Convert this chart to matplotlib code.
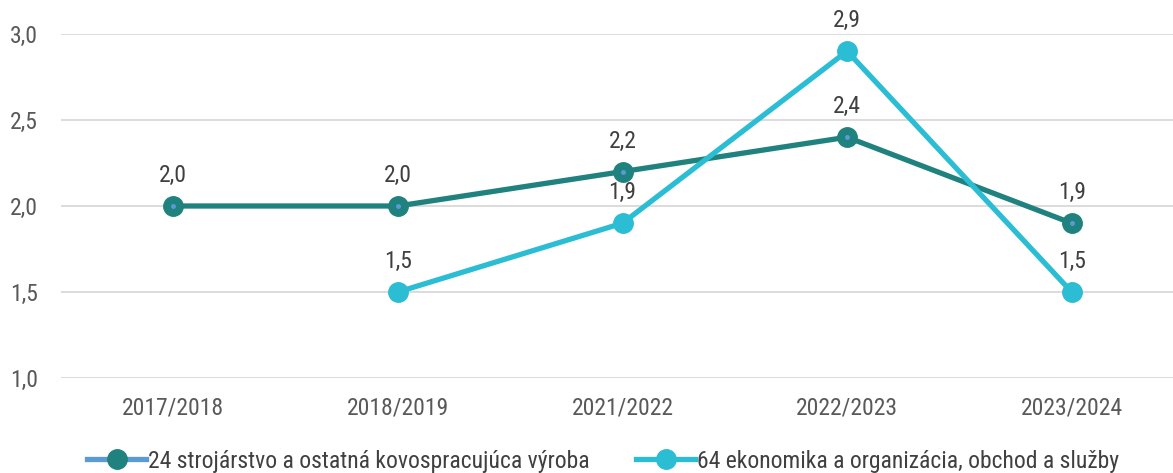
import matplotlib
matplotlib.use("Agg")
import matplotlib.pyplot as plt
from matplotlib.lines import Line2D
import numpy as np

plt.rcParams['font.family'] = ['Roboto Condensed', 'Roboto', 'DejaVu Sans']

categories = ["2017/2018", "2018/2019", "2021/2022", "2022/2023", "2023/2024"]
series1_name = "24 strojárstvo a ostatná kovospracujúca výroba"
series1 = [2.0, 2.0, 2.2, 2.4, 1.9]
series2_name = "64 ekonomika a organizácia, obchod a služby"
series2 = [None, 1.5, 1.9, 2.9, 1.5]
yticks = [1.0, 1.5, 2.0, 2.5, 3.0]

c1 = "#20827F"
c2 = "#2BBDD4"
dot = "#5B9BD5"

fig = plt.figure(figsize=(11.73, 4.73), dpi=100)
ax = fig.add_axes([61/1173, 95/473, 1123/1173, 344/473])

x = np.arange(len(categories))
y2 = np.array([np.nan if v is None else v for v in series2], dtype=float)

ax.plot(x, series1, color=c1, lw=3.8, marker='o', ms=14, mfc=c1, mec=c1, zorder=3, solid_capstyle='round')
ax.plot(x, series1, ls='none', marker='o', ms=2.5, color=dot, zorder=4)
ax.plot(x, y2, color=c2, lw=3.8, marker='o', ms=14, mfc=c2, mec=c2, zorder=3, solid_capstyle='round')

for xi, v in zip(x, series1):
    ax.annotate(f"{v:.1f}".replace('.', ','), (xi, v), xytext=(0, 17.3), textcoords='offset points',
                ha='center', va='baseline', fontsize=17, color='#404040')
for xi, v in zip(x, series2):
    if v is None:
        continue
    ax.annotate(f"{v:.1f}".replace('.', ','), (xi, v), xytext=(0, 17.3), textcoords='offset points',
                ha='center', va='baseline', fontsize=17, color='#404040')

ax.set_xlim(-0.5, len(categories) - 0.5)
ax.set_ylim(1.0, 3.0)
ax.set_yticks(yticks)
ax.set_yticklabels([f"{t:.1f}".replace('.', ',') for t in yticks])
ax.set_xticks(x)
ax.set_xticklabels(categories)
ax.grid(axis='y', color='#D9D9D9', lw=1.3)
ax.set_axisbelow(True)
for s in ax.spines.values():
    s.set_visible(False)
ax.tick_params(axis='both', length=0, labelsize=17, labelcolor='#595959')
ax.tick_params(axis='x', pad=13)
ax.tick_params(axis='y', pad=16.5)

h1 = Line2D([], [], color=dot, lw=3.8, marker='o', ms=14, mfc=c1, mec=c1)
h2 = Line2D([], [], color=c2, lw=3.8, marker='o', ms=14, mfc=c2, mec=c2)
fig.legend([h1, h2], [series1_name, series2_name], loc='center', bbox_to_anchor=(603/1173, 12/473),
           ncol=2, frameon=False, fontsize=17, labelcolor='#404040', handlelength=2.5,
           handletextpad=0.05, columnspacing=2.0, borderpad=0)

fig.savefig("out.png", dpi=100)
